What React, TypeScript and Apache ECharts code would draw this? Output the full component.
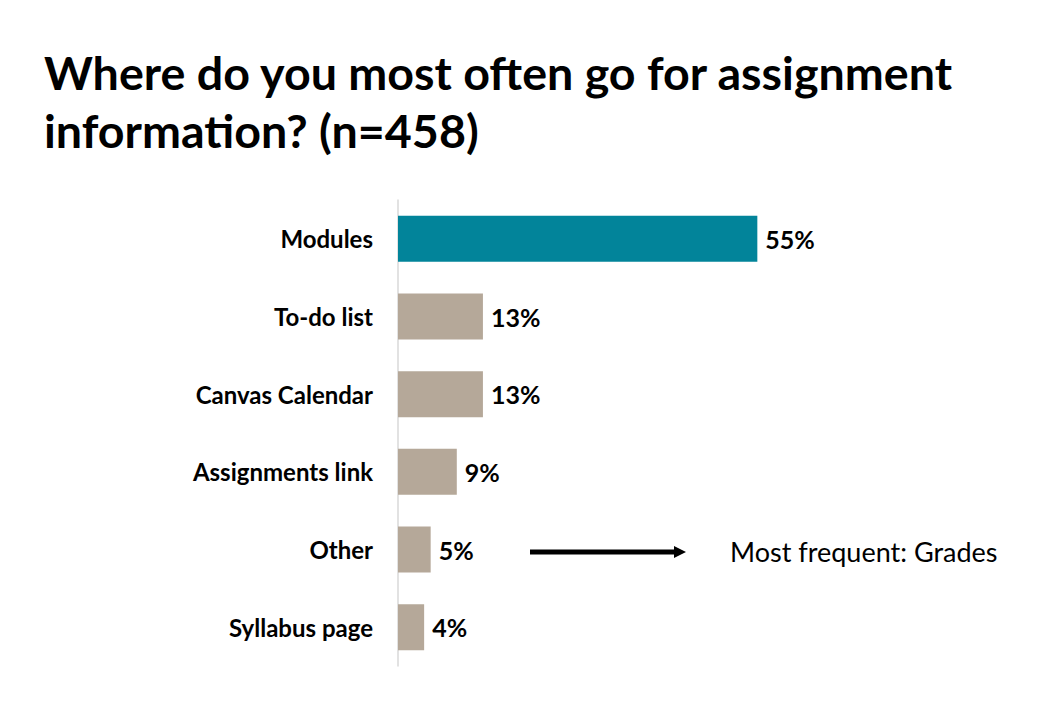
import React, { useEffect, useRef } from "react";
import * as echarts from "echarts";

const categories = ["Modules", "To-do list", "Canvas Calendar", "Assignments link", "Other", "Syllabus page"];
const values = [55, 13, 13, 9, 5, 4];
const barColors = ["#02849a", "#b5a899", "#b5a899", "#b5a899", "#b5a899", "#b5a899"];
const titleLines = ["Where do you most often go for assignment", "information? (n=458)"];
const noteText = "Most frequent: Grades";

const FONT = "Lato, 'Open Sans', sans-serif";

export default function App() {
  const ref = useRef<HTMLDivElement>(null);
  useEffect(() => {
    if (!ref.current) return;
    const chart = echarts.init(ref.current, undefined, { renderer: "svg" });
    chart.setOption({
      animation: false,
      backgroundColor: "#ffffff",
      grid: { left: 398, top: 200, width: 392, height: 466, containLabel: false },
      xAxis: { type: "value", min: 0, max: 60, show: false },
      yAxis: {
        type: "category",
        data: categories,
        inverse: true,
        axisLine: { show: true, lineStyle: { color: "#d9d9d9", width: 1.5 } },
        axisTick: { show: false },
        axisLabel: { color: "#000", fontSize: 24, fontWeight: "bold", fontFamily: FONT, margin: 25 },
      },
      series: [
        {
          type: "bar",
          data: values.map((v, i) => ({ value: v, itemStyle: { color: barColors[i] } })),
          barWidth: 46,
          label: {
            show: true,
            position: "right",
            distance: 8,
            formatter: "{c}%",
            color: "#000",
            fontSize: 25,
            fontWeight: "bold",
            fontFamily: FONT,
          },
        },
      ],
      graphic: [
        {
          type: "text",
          left: 44,
          top: 43,
          style: {
            text: titleLines.join("\n"),
            font: `bold 46.6px ${FONT}`,
            fill: "#000",
            lineHeight: 58,
          },
        },
        {
          type: "line",
          shape: { x1: 530, y1: 552, x2: 676, y2: 552 },
          style: { stroke: "#000", lineWidth: 5 },
        },
        {
          type: "polygon",
          shape: { points: [[674, 546], [686, 552], [674, 558]] },
          style: { fill: "#000" },
        },
        {
          type: "text",
          x: 730,
          y: 551,
          style: {
            text: noteText,
            font: `27px ${FONT}`,
            fill: "#000",
            textVerticalAlign: "middle",
          },
        },
      ],
    });
    return () => chart.dispose();
  }, []);
  return <div ref={ref} style={{ position: "fixed", left: 0, top: 0, width: 1055, height: 705 }} />;
}
